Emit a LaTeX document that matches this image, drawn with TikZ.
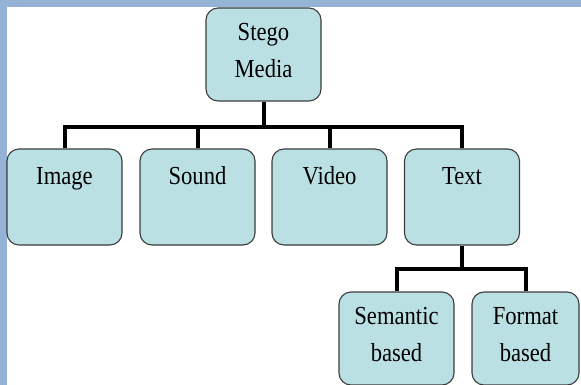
\documentclass[tikz,border=0pt]{standalone}
\usepackage{fontspec}
\usepackage{tikz}
\usetikzlibrary{positioning,calc}
\newfontfamily\boxfont[FakeStretch=0.87]{Liberation Serif}
\definecolor{framebg}{HTML}{95B3D7}
\definecolor{boxfill}{HTML}{BBE0E3}
\definecolor{boxline}{HTML}{3C3C3C}
\tikzset{
  mbox/.style={draw=boxline, fill=boxfill, line width=1.1pt, rounded corners=12pt,
    minimum width=115pt, minimum height=93pt, inner sep=6pt,
    font=\boxfont\fontsize{26pt}{37pt}\selectfont},
  twoline/.style={mbox, align=center, text depth=8pt},
  oneline/.style={mbox, minimum height=96pt, text height=18pt, text depth=42pt},
  link/.style={line width=4pt, draw=black}
}
\begin{document}
\begin{tikzpicture}[x=1pt,y=-1pt]
\useasboundingbox (0,0) rectangle (581,385);
\fill[framebg] (0,0) rectangle (581,385);
\fill[white] (7,7) rectangle (581,385);
\node[twoline] (media) at (263.5,54.5) {Stego\\Media};
\node[oneline] (image) at (64.5,197) {Image};
\node[oneline] (sound) at (197.5,197) {Sound};
\node[oneline] (video) at (329.5,197) {Video};
\node[oneline] (text) at (462,197) {Text};
\node[twoline] (semantic) at (396.5,338.5) {Semantic\\based};
\node[twoline, minimum width=107pt] (format) at (525.5,338.5) {Format\\based};
\coordinate (bar1) at (263.5,127);
\coordinate (bar2) at (462,269);
\begin{scope}[link]
\draw (media.south) -- (bar1);
\draw (image.north) |- (bar1) -| (text.north);
\draw (sound.north) -- (sound.north |- bar1);
\draw (video.north) -- (video.north |- bar1);
\draw (text.south) -- (bar2);
\draw (semantic.north) |- (bar2) -| (format.north);
\end{scope}
\end{tikzpicture}
\end{document}
